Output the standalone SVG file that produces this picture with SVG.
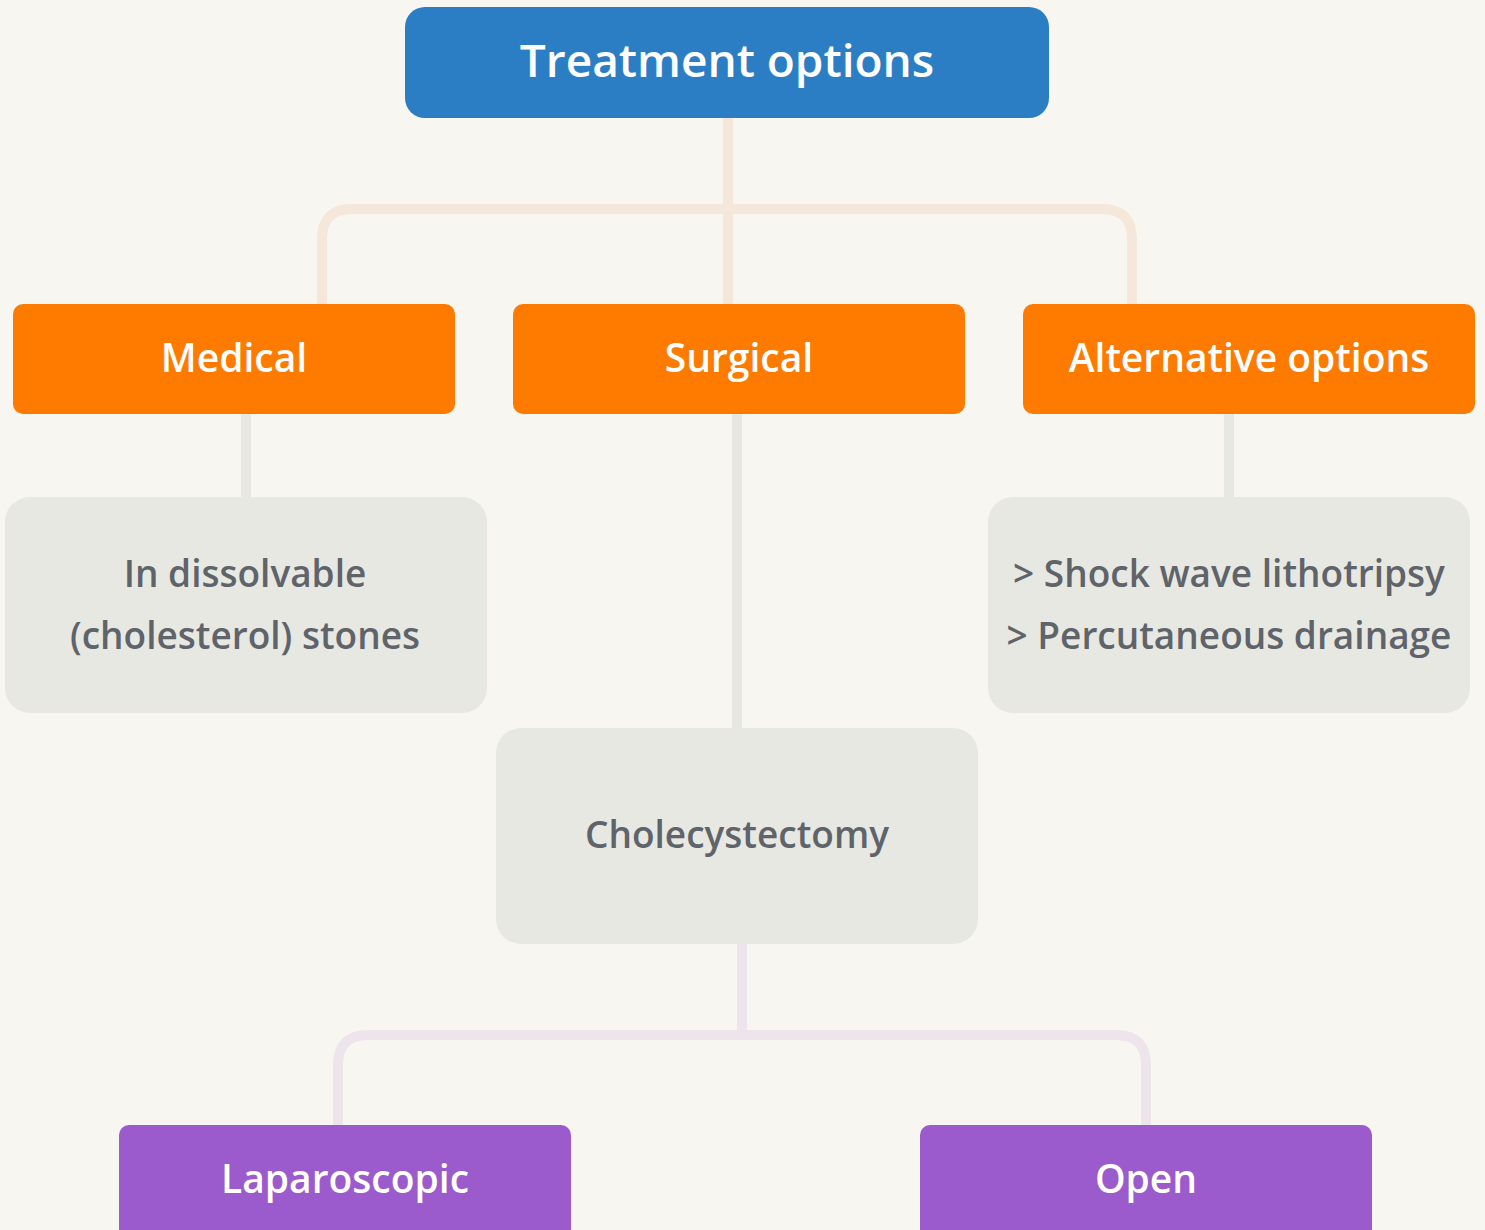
<svg xmlns="http://www.w3.org/2000/svg" width="1485" height="1230" viewBox="0 0 1485 1230">
<style>
.bg{fill:#F7F6F1}
.top{fill:#2C7EC4}
.org{fill:#FF7B00}
.gry{fill:#E8E8E3}
.pur{fill:#9B5BCC}
.wt{fill:#FFFFFF;font-family:"Open Sans","Liberation Sans",sans-serif;font-weight:600;text-anchor:middle}
.gt{fill:#5F636A;font-family:"Open Sans","Liberation Sans",sans-serif;font-weight:600;text-anchor:middle;font-size:37px}
.c1{fill:none;stroke:#F5E7D9;stroke-width:10}
.c2{fill:none;stroke:#E8E8E3;stroke-width:10}
.c3{fill:none;stroke:#EEE4EC;stroke-width:10}
</style>
<rect class="bg" x="0" y="0" width="1485" height="1230"/>
<g id="connectors">
<path class="c1" d="M728 118 V304"/>
<path class="c1" d="M322 304 V239 Q322 209 352 209 H1102 Q1132 209 1132 239 V304"/>
<path class="c2" d="M246 414 V497"/>
<path class="c2" d="M737 414 V728"/>
<path class="c2" d="M1229 414 V497"/>
<path class="c3" d="M742 944 V1035"/>
<path class="c3" d="M338 1125 V1065 Q338 1035 368 1035 H1116 Q1146 1035 1146 1065 V1125"/>
</g>
<g id="treatment">
<rect class="top" x="405" y="7" width="644" height="111" rx="20"/>
<text class="wt" x="727" y="77" font-size="46">Treatment options</text>
</g>
<g id="medical">
<rect class="org" x="13" y="304" width="442" height="110" rx="10"/>
<text class="wt" x="234" y="372" font-size="39">Medical</text>
</g>
<g id="surgical">
<rect class="org" x="513" y="304" width="452" height="110" rx="10"/>
<text class="wt" x="739" y="372" font-size="39">Surgical</text>
</g>
<g id="alternative">
<rect class="org" x="1023" y="304" width="452" height="110" rx="10"/>
<text class="wt" x="1249" y="372" font-size="39">Alternative options</text>
</g>
<g id="dissolvable">
<rect class="gry" x="5" y="497" width="482" height="216" rx="25"/>
<text class="gt" x="245" y="587">In dissolvable</text>
<text class="gt" x="245" y="649">(cholesterol) stones</text>
</g>
<g id="altlist">
<rect class="gry" x="988" y="497" width="482" height="216" rx="25"/>
<text class="gt" x="1229" y="587">&gt; Shock wave lithotripsy</text>
<text class="gt" x="1229" y="649">&gt; Percutaneous drainage</text>
</g>
<g id="cholecystectomy">
<rect class="gry" x="496" y="728" width="482" height="216" rx="25"/>
<text class="gt" x="737" y="848">Cholecystectomy</text>
</g>
<g id="laparoscopic">
<rect class="pur" x="119" y="1125" width="452" height="115" rx="10"/>
<text class="wt" x="345" y="1193" font-size="39">Laparoscopic</text>
</g>
<g id="open">
<rect class="pur" x="920" y="1125" width="452" height="115" rx="10"/>
<text class="wt" x="1146" y="1193" font-size="39">Open</text>
</g>
</svg>
